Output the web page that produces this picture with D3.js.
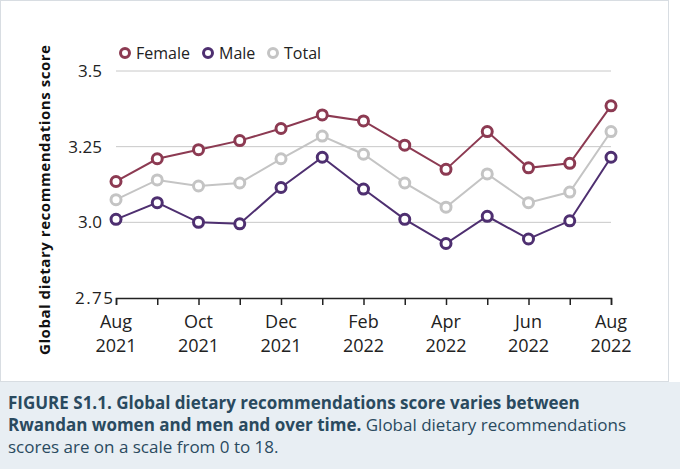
<!DOCTYPE html>
<html><head><meta charset="utf-8">
<script src="https://cdn.jsdelivr.net/npm/d3@7"></script>
<style>
body{margin:0;background:#fff;font-family:"Open Sans",sans-serif;}
#cap{position:absolute;left:0;top:382px;width:660px;height:87px;background:#e8eef3;color:#2a4a5f;font-size:17px;line-height:22px;padding:10px 0 0 8px;box-sizing:border-box;}
#bg{position:absolute;left:0;top:382px;width:680px;height:87px;background:#e8eef3;}
</style></head><body>
<div id="bg"></div>
<svg id="c" width="680" height="382" style="position:absolute;left:0;top:0"></svg>
<div id="cap"><b>FIGURE S1.1. Global dietary recommendations score varies between Rwandan women and men and over time.</b> Global dietary recommendations scores are on a scale from 0 to 18.</div>
<script>
var months = ["Aug\n2021","","Oct\n2021","","Dec\n2021","","Feb\n2022","","Apr\n2022","","Jun\n2022","","Aug\n2022"];
var female = [3.135,3.21,3.24,3.27,3.31,3.355,3.335,3.255,3.175,3.30,3.18,3.195,3.385];
var male = [3.01,3.065,3.0,2.995,3.115,3.215,3.11,3.01,2.93,3.02,2.945,3.005,3.215];
var total = [3.075,3.14,3.12,3.13,3.21,3.285,3.225,3.13,3.05,3.16,3.065,3.10,3.30];
var yTicks = [2.75,3.0,3.25,3.5];
var yLabels = ["2.75","3.0","3.25","3.5"];

var svg = d3.select("#c");
svg.append("rect").attr("x",0.5).attr("y",0.5).attr("width",668).attr("height",381)
  .attr("fill","#fff").attr("stroke","#d8dde2");

var x = d3.scaleLinear().domain([0,12]).range([116,611]);
var y = d3.scaleLinear().domain([2.75,3.5]).range([298,71]);

svg.selectAll(".grid").data(yTicks.slice(1)).enter().append("line")
  .attr("x1",116).attr("x2",611).attr("y1",d=>y(d)).attr("y2",d=>y(d))
  .attr("stroke","#c8c8c8").attr("stroke-width",1);

svg.selectAll(".yl").data(yTicks).enter().append("text")
  .attr("x",d=>d==2.75?113:102).attr("y",d=>y(d)+6).attr("text-anchor","end")
  .attr("font-size",17).attr("fill","#222").attr("textLength",d=>d==2.75?38:null)
  .text((d,i)=>yLabels[i]);

var xAxis = svg.append("g").attr("transform","translate(0,298)")
  .call(d3.axisBottom(x).ticks(12).tickSize(7).tickFormat(""));
xAxis.select(".domain").attr("stroke","#222").attr("stroke-width",1.5);
xAxis.selectAll(".tick line").attr("stroke","#222").attr("stroke-width",1.5);

months.forEach(function(m,i){
  if(!m) return;
  var p = m.split("\n");
  var t = svg.append("text").attr("x",x(i)).attr("y",328).attr("text-anchor","middle")
    .attr("font-size",18).attr("fill","#222");
  t.append("tspan").attr("x",x(i)).text(p[0]);
  t.append("tspan").attr("x",x(i)).attr("dy",24).text(p[1]);
});

svg.append("text").attr("transform","translate(50,200) rotate(-90)")
  .attr("text-anchor","middle").attr("font-size",15).attr("font-weight","bold")
  .attr("fill","#111").attr("textLength",310).text("Global dietary recommendations score");

var series = [
  {name:"Total",vals:total,color:"#c4c4c4"},
  {name:"Male",vals:male,color:"#4e2f70"},
  {name:"Female",vals:female,color:"#8c3a52"}
];
var line = d3.line().x((d,i)=>x(i)).y(d=>y(d));
series.forEach(function(s){
  svg.append("path").datum(s.vals).attr("d",line).attr("fill","none")
    .attr("stroke",s.color).attr("stroke-width",2);
  svg.selectAll(null).data(s.vals).enter().append("circle")
    .attr("cx",(d,i)=>x(i)).attr("cy",d=>y(d)).attr("r",5)
    .attr("fill","#fff").attr("stroke",s.color).attr("stroke-width",3);
});

var legend = [["Female","#8c3a52",125],["Male","#4e2f70",208],["Total","#c4c4c4",273]];
legend.forEach(function(l){
  svg.append("circle").attr("cx",l[2]).attr("cy",53).attr("r",4.5)
    .attr("fill","#fff").attr("stroke",l[1]).attr("stroke-width",3);
  svg.append("text").attr("x",l[2]+11).attr("y",59).attr("font-size",16)
    .attr("fill","#222").text(l[0]);
});
</script></body></html>
